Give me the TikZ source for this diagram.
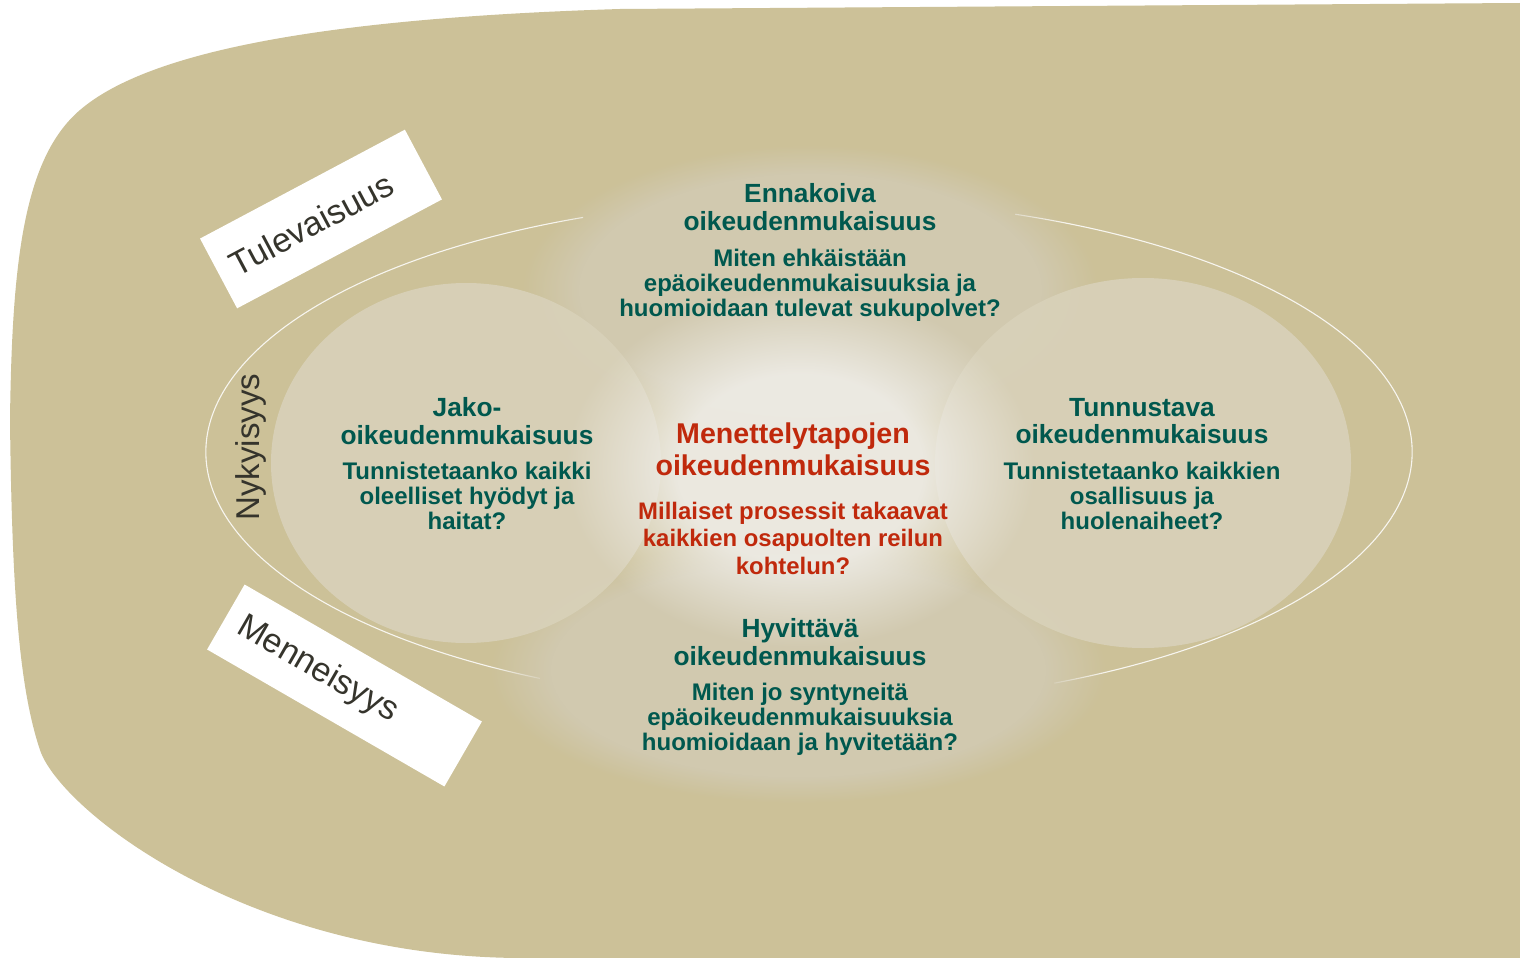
\documentclass[tikz,border=0pt]{standalone}
\usepackage{fontspec}
\setmainfont{Liberation Sans}
\usetikzlibrary{fadings}

\definecolor{bgtan}{HTML}{CCC198}
\definecolor{sidefill}{HTML}{D8D1B9}
\definecolor{glowfill}{HTML}{D1C9AF}
\definecolor{tealtxt}{HTML}{00584E}
\definecolor{redtxt}{HTML}{C0290C}
\definecolor{labeltxt}{HTML}{35342C}
\definecolor{centrefill}{HTML}{EEECE6}

\pgfdeclareradialshading{softshade}{\pgfpointorigin}{color(0bp)=(white); color(20bp)=(white); color(25bp)=(black); color(50bp)=(black)}
\pgfdeclarefading{softfade}{\pgfuseshading{softshade}}
\pgfdeclareradialshading{whiteshade}{\pgfpointorigin}{color(0bp)=(white); color(13bp)=(white); color(25bp)=(black); color(50bp)=(black)}
\pgfdeclarefading{whitefade}{\pgfuseshading{whiteshade}}

\tikzset{
  ttl/.style={font=\bfseries\fontsize{26.3}{27.5}\selectfont, text=tealtxt, align=center, inner sep=0pt},
  qst/.style={font=\bfseries\fontsize{24}{24.8}\selectfont, text=tealtxt, align=center, inner sep=0pt},
  cttl/.style={font=\bfseries\fontsize{28.6}{32}\selectfont, text=redtxt, align=center, inner sep=0pt},
  cqst/.style={font=\bfseries\fontsize{23.9}{27.5}\selectfont, text=redtxt, align=center, inner sep=0pt},
  lblbox/.style={fill=white, draw=none, font=\fontsize{34}{36}\selectfont, text=labeltxt, align=left, inner ysep=0pt},
  lbltext/.style={font=\fontsize{33}{36}\selectfont, text=labeltxt, inner sep=0pt},
  rimline/.style={draw=white, line width=1.1pt, draw opacity=0.85},
  glow/.style={fill=glowfill, path fading=softfade},
  sideell/.style={fill=sidefill, fill opacity=0.92},
}

\begin{document}
\begin{tikzpicture}[x=1pt,y=-1pt]
\useasboundingbox (0,0) rectangle (1520,958);
\fill[white] (0,0) rectangle (1520,958);

% background shape
\fill[bgtan] (1520,3) -- (620,9)
  .. controls (330,18) and (150,50) .. (80,110)
  .. controls (24,158) and (12,260) .. (10,420)
  .. controls (12,600) and (20,690) .. (40,750)
  .. controls (60,810) and (250,960) .. (530,958)
  -- (1520,958) -- cycle;

% outer thin ring (left and right parts)
\draw[rimline] (809,452) ++(248:603 and 253) arc[start angle=248, end angle=116.5, x radius=603, y radius=253];
\draw[rimline] (809,452) ++(-70:603 and 253) arc[start angle=-70, end angle=66, x radius=603, y radius=253];

% top and bottom glows
\fill[glow] (810,290) ellipse [x radius=288, y radius=145];
\fill[glow] (798,670) ellipse [x radius=308, y radius=133];

% side ellipses
\fill[sideell] (466,463) ellipse [x radius=195, y radius=180];
\fill[sideell] (1143,463) ellipse [x radius=208, y radius=185];

% centre white glow
\fill[centrefill, fill opacity=0.92, path fading=whitefade] (800,468) ellipse [x radius=235, y radius=180];

% labels
\node[lblbox, rotate=28, minimum width=232pt, minimum height=79pt, text width=202pt, inner xsep=15pt] (tul) at (321,219) {\raisebox{-6pt}{Tulevaisuus}};
\node[lblbox, rotate=-30, minimum width=274pt, minimum height=75pt, text width=242pt, inner xsep=16pt] (men) at (344.5,685.5) {\raisebox{-4pt}{Menneisyys}};
\node[lbltext, rotate=90] (nyk) at (251,447) {Nykyisyys};

% top
\node[ttl] (ennT) at (810,207) {Ennakoiva\\oikeudenmukaisuus};
\node[qst] (ennQ) at (810,285) {Miten ehkäistään\\epäoikeudenmukaisuuksia ja\\huomioidaan tulevat sukupolvet?};

% left
\node[ttl] (jakT) at (467,421) {Jako-\\oikeudenmukaisuus};
\node[qst] (jakQ) at (467,496) {Tunnistetaanko kaikki\\oleelliset hyödyt ja\\haitat?};

% right
\node[ttl] (tunT) at (1142,421) {Tunnustava\\oikeudenmukaisuus};
\node[qst] (tunQ) at (1142,496) {Tunnistetaanko kaikkien\\osallisuus ja\\huolenaiheet?};

% centre
\node[cttl] (menT) at (793,449) {Menettelytapojen\\oikeudenmukaisuus};
\node[cqst] (menQ) at (793,538) {Millaiset prosessit takaavat\\kaikkien osapuolten reilun\\kohtelun?};

% bottom
\node[ttl] (hyvT) at (800,642) {Hyvittävä\\oikeudenmukaisuus};
\node[qst] (hyvQ) at (800,719) {Miten jo syntyneitä\\epäoikeudenmukaisuuksia\\huomioidaan ja hyvitetään?};
\end{tikzpicture}
\end{document}
